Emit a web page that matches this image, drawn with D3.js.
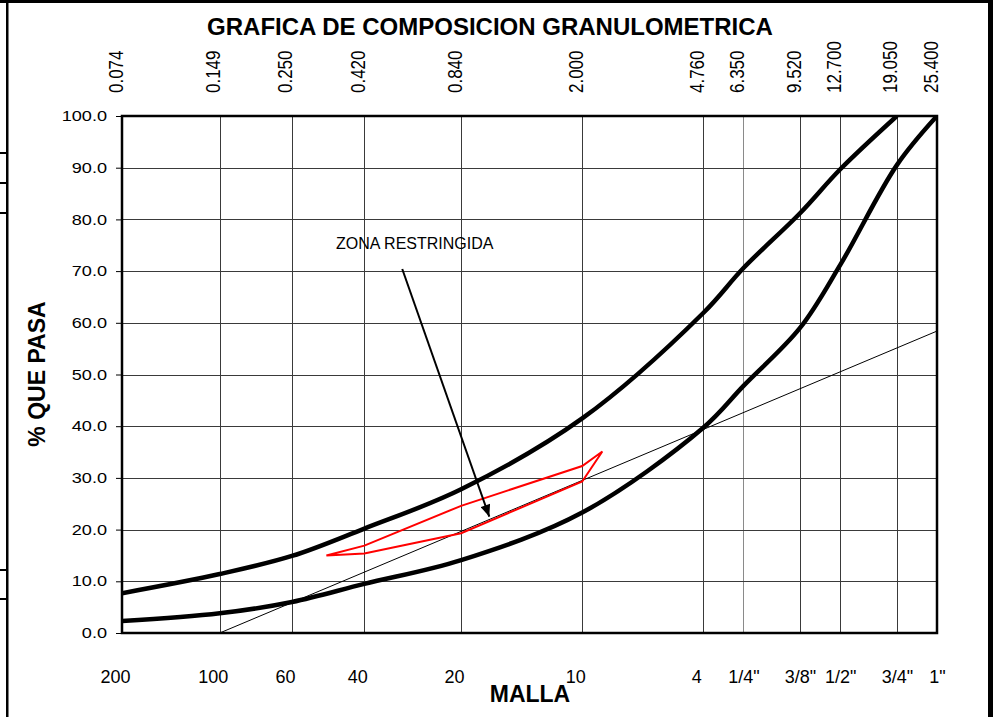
<!DOCTYPE html>
<html>
<head>
<meta charset="utf-8">
<script src="https://cdn.jsdelivr.net/npm/d3@7"></script>
<style>
  html, body { margin: 0; padding: 0; background: #fff; }
  svg { display: block; font-family: Arial, "Liberation Sans", sans-serif; }
</style>
</head>
<body>
<svg id="chart"></svg>
<script>
// tamices (mm) y su malla
const sieves = [0.074, 0.149, 0.250, 0.420, 0.840, 2.000, 4.760, 6.350, 9.520, 12.700, 19.050, 25.400]
const meshLabels = ['200', '100', '60', '40', '20', '10', '4', '1/4"', '3/8"', '1/2"', '3/4"', '1"']

// limites de la banda granulometrica (% que pasa), null = sin punto
const upperLimit = [7.7, 11.4, 14.9, 20.2, 27.8, 41.5, 61.9, 70.6, 81.2, 89.7, 100, null]
const lowerLimit = [2.3, 3.8, 6.0, 9.5, 14.1, 23.3, 39.7, 47.8, 59.0, 71.2, 90.5, 100]

// linea de maxima densidad
const densitySize = [0.149, 25.4]
const densityPass = [0, 58.4]

// zona restringida
const zoneSize = [0.32, 0.42, 0.84, 2.0, 2.31, 2.0, 0.84, 0.42]
const zonePass = [15.0, 16.9, 24.6, 32.3, 35.1, 29.3, 19.3, 15.4]

const yTicks = [0, 10, 20, 30, 40, 50, 60, 70, 80, 90, 100]

// anotacion (en unidades del grafico)
const zoneLabel = { text: 'ZONA RESTRINGIDA', size: 0.343, pass: 74.3 }
const zoneArrow = { from: [0.551, 70.4], to: [1.028, 22.5] }

const width = 997
const height = 717
const margin = { top: 116, right: 60, bottom: 84, left: 122 }

const svg = d3.select('#chart')
  .attr('width', width)
  .attr('height', height)

// marco de la hoja
const sheet = svg.append('g').attr('fill', '#000')
sheet.append('rect').attr('x', 0).attr('y', 0).attr('width', 993).attr('height', 3)
sheet.append('rect').attr('x', 6).attr('y', 0).attr('width', 2.5).attr('height', height)
sheet.append('rect').attr('x', 988).attr('y', 0).attr('width', 5).attr('height', height)
sheet.selectAll('.stub')
  .data([153, 183, 213, 570, 599])
  .enter().append('rect')
  .attr('class', 'stub')
  .attr('x', 0)
  .attr('y', d => d - 1)
  .attr('width', 7)
  .attr('height', 2)

const x = d3.scaleLog()
  .domain([sieves[0], sieves[sieves.length - 1]])
  .range([margin.left, width - margin.right])

const y = d3.scaleLinear()
  .domain([0, 100])
  .range([height - margin.bottom, margin.top])

svg.append('defs').append('clipPath')
  .attr('id', 'plot-clip')
  .append('rect')
  .attr('x', x.range()[0])
  .attr('y', y.range()[1])
  .attr('width', x.range()[1] - x.range()[0])
  .attr('height', y.range()[0] - y.range()[1])

svg.select('defs').append('marker')
  .attr('id', 'arrow')
  .attr('markerUnits', 'userSpaceOnUse')
  .attr('viewBox', '0 0 12 10')
  .attr('refX', 12)
  .attr('refY', 5)
  .attr('markerWidth', 13)
  .attr('markerHeight', 10)
  .attr('orient', 'auto')
  .append('path')
  .attr('d', 'M0,0L12,5L0,10Z')
  .attr('fill', '#000')

// rejilla
const grid = svg.append('g').attr('stroke', '#3a3a3a').attr('stroke-width', 1)
grid.selectAll('.vgrid')
  .data(sieves.slice(1, -1))
  .enter().append('line')
  .attr('class', 'vgrid')
  .attr('x1', d => Math.round(x(d)) + 0.5)
  .attr('x2', d => Math.round(x(d)) + 0.5)
  .attr('y1', y(0))
  .attr('y2', y(100))
  .attr('stroke', d => d === 6.35 ? '#8a8a8a' : null)

grid.selectAll('.hgrid')
  .data(yTicks.slice(1, -1))
  .enter().append('line')
  .attr('class', 'hgrid')
  .attr('x1', x.range()[0])
  .attr('x2', x.range()[1])
  .attr('y1', d => Math.round(y(d)) + 0.5)
  .attr('y2', d => Math.round(y(d)) + 0.5)

// eje Y (texto algo ensanchado como en la hoja original)
const yAxis = svg.append('g')
  .attr('transform', `translate(${margin.left},0)`)
  .call(d3.axisLeft(y).tickValues(yTicks).tickSize(6).tickPadding(9).tickFormat(d3.format('.1f')))
yAxis.select('.domain').remove()
yAxis.selectAll('line').attr('stroke', '#000')
yAxis.selectAll('text')
  .attr('font-size', 14.5)
  .attr('font-family', 'Arial, "Liberation Sans", sans-serif')
  .attr('fill', '#000')
  .attr('x', -15 / 1.25)
  .attr('transform', 'scale(1.25,1)')

// eje superior: abertura en mm
const topAxis = svg.append('g')
  .attr('transform', `translate(0,${margin.top})`)
  .call(d3.axisTop(x).tickValues(sieves).tickSize(0).tickFormat(d3.format('.3f')))
topAxis.select('.domain').remove()
topAxis.selectAll('text')
  .attr('font-size', 17)
  .attr('font-family', 'Arial, "Liberation Sans", sans-serif')
  .attr('fill', '#000')
  .attr('x', 0)
  .attr('y', 0)
  .attr('dy', 0)
  .attr('text-anchor', 'start')
  .attr('transform', 'translate(0,-23) rotate(-90) scale(1,1.22)')

// eje inferior: malla
const bottomAxis = svg.append('g')
  .attr('transform', `translate(0,${height - margin.bottom})`)
  .call(d3.axisBottom(x).tickValues(sieves).tickSize(0).tickFormat((d, i) => meshLabels[i]))
bottomAxis.select('.domain').remove()
bottomAxis.selectAll('text')
  .attr('font-size', 18)
  .attr('font-family', 'Arial, "Liberation Sans", sans-serif')
  .attr('fill', '#000')
  .attr('y', 50)
  .attr('dy', 0)
  .attr('dx', (d, i) => i < 7 ? -7 : 0)

// curvas
const plot = svg.append('g').attr('clip-path', 'url(#plot-clip)')

const curve = d3.line()
  .x(d => x(d[0]))
  .y(d => y(d[1]))
  .curve(d3.curveCatmullRom.alpha(0.5))

const straight = d3.line()
  .x(d => x(d[0]))
  .y(d => y(d[1]))

plot.append('path')
  .datum(d3.zip(densitySize, densityPass))
  .attr('d', straight)
  .attr('fill', 'none')
  .attr('stroke', '#000')
  .attr('stroke-width', 1)

plot.selectAll('.limit')
  .data([upperLimit, lowerLimit])
  .enter().append('path')
  .attr('class', 'limit')
  .attr('d', d => curve(d3.zip(sieves, d).filter(p => p[1] !== null)))
  .attr('fill', 'none')
  .attr('stroke', '#000')
  .attr('stroke-width', 4.5)
  .attr('stroke-linejoin', 'round')

plot.append('path')
  .datum(d3.zip(zoneSize, zonePass))
  .attr('d', d => straight(d) + 'Z')
  .attr('fill', 'none')
  .attr('stroke', '#ff0000')
  .attr('stroke-width', 2)
  .attr('stroke-linejoin', 'miter')

// borde del area de trazado
svg.append('rect')
  .attr('x', x.range()[0])
  .attr('y', y.range()[1])
  .attr('width', x.range()[1] - x.range()[0])
  .attr('height', y.range()[0] - y.range()[1])
  .attr('fill', 'none')
  .attr('stroke', '#000')
  .attr('stroke-width', 2.5)

// anotacion de la zona restringida
svg.append('text')
  .attr('x', x(zoneLabel.size))
  .attr('y', y(zoneLabel.pass))
  .attr('font-size', 16)
  .attr('fill', '#000')
  .text(zoneLabel.text)

svg.append('line')
  .attr('x1', x(zoneArrow.from[0]))
  .attr('y1', y(zoneArrow.from[1]))
  .attr('x2', x(zoneArrow.to[0]))
  .attr('y2', y(zoneArrow.to[1]))
  .attr('stroke', '#000')
  .attr('stroke-width', 2)
  .attr('marker-end', 'url(#arrow)')

// titulos
svg.append('text')
  .attr('x', 490)
  .attr('y', 35)
  .attr('text-anchor', 'middle')
  .attr('font-size', 24)
  .attr('font-weight', 'bold')
  .text('GRAFICA DE COMPOSICION GRANULOMETRICA')

svg.append('text')
  .attr('x', 530)
  .attr('y', 702)
  .attr('text-anchor', 'middle')
  .attr('font-size', 23)
  .attr('font-weight', 'bold')
  .text('MALLA')

svg.append('text')
  .attr('transform', 'translate(45,374) rotate(-90)')
  .attr('text-anchor', 'middle')
  .attr('font-size', 23)
  .attr('font-weight', 'bold')
  .text('% QUE PASA')
</script>
</body>
</html>
